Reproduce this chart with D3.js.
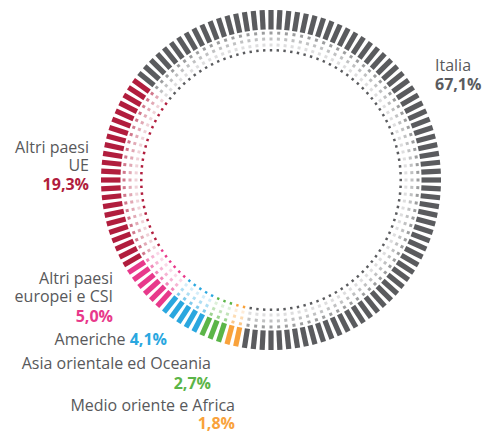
<!DOCTYPE html>
<html><head><meta charset="utf-8">
<script src="https://cdn.jsdelivr.net/npm/d3@7"></script>
<style>
html,body{margin:0;padding:0;background:#fff;}
svg{display:block;}
text{font-family:"Open Sans",sans-serif;}
</style></head>
<body><svg id="c" width="489" height="432"></svg>
<script>
// --- data ---
const categories = ["Italia","Medio oriente e Africa","Asia orientale ed Oceania","Americhe","Altri paesi europei e CSI","Altri paesi UE"];
const shares = [67.1, 1.8, 2.7, 4.1, 5.0, 19.3];
const shareLabels = ["67,1%","1,8%","2,7%","4,1%","5,0%","19,3%"];
const colors = ["#5a5b5e","#f9a23b","#5bb548","#2aa7df","#e8398b","#b11d3d"];
const tickCount = 120;

const svg = d3.select("#c");
const cx = 271, cy = 180;
const deg = Math.PI/180;
const g = svg.append("g").attr("transform",`translate(${cx},${cy})`);

const startDeg = -52;
const pie = d3.pie().sort(null).value(d=>d).startAngle(startDeg*deg).endAngle((startDeg+360)*deg);
const arcs = pie(shares);

const angle = d3.scaleLinear().domain([0,tickCount]).range([0,360]);
const ticks = d3.range(tickCount).map(i=>{
  const a = angle(i); // degrees, clockwise from top
  let ar = a*deg;
  while (ar < arcs[0].startAngle) ar += 2*Math.PI;
  while (ar >= arcs[0].startAngle + 2*Math.PI) ar -= 2*Math.PI;
  let idx = arcs.findIndex(s => ar>=s.startAngle && ar<s.endAngle);
  if (idx < 0) idx = 0;
  return {a, idx};
});

// rings: radius band [r0,r1], width, opacity
const rings = [
  {r0:150.5, r1:170, w:5.2, op:1},
  {r0:145.5, r1:148.5, w:3, op:0.6},
  {r0:139.5, r1:142.5, w:3, op:0.38},
  {r0:133.5, r1:136.5, w:3, op:0.2},
  {r0:128.5, r1:131, w:2.4, op:1}
];

rings.forEach(rg=>{
  g.append("g").selectAll("rect").data(ticks).join("rect")
    .attr("x",-rg.w/2).attr("width",rg.w)
    .attr("y",-rg.r1).attr("height",rg.r1-rg.r0)
    .attr("transform",d=>`rotate(${d.a})`)
    .attr("fill",d=>colors[d.idx])
    .attr("fill-opacity",rg.op);
});

// labels
const textGray = "#58595b";
const fs = 16;
function label(lines, x, y0, anchor){
  const t = svg.append("text").attr("text-anchor",anchor).attr("font-size",fs);
  lines.forEach((ln)=>{
    const ts = t.append("tspan").attr("x",x).attr("y",y0+(ln.dy||0));
    ln.parts.forEach(p=>{
      ts.append("tspan").text(p.t).attr("fill",p.c||textGray).attr("font-weight",p.b?700:400);
    });
  });
}
const lab = i => ({t:shareLabels[i], c:colors[i], b:true});

label([{parts:[{t:"Italia"}],dy:0},{parts:[lab(0)],dy:19}], 435, 71, "start");
label([{parts:[{t:"Altri paesi"}],dy:0},{parts:[{t:"UE"}],dy:18},{parts:[lab(5)],dy:37}], 89, 153, "end");
label([{parts:[{t:"Altri paesi"}],dy:0},{parts:[{t:"europei e CSI"}],dy:18},{parts:[lab(4)],dy:38}], 113, 284, "end");
label([{parts:[{t:"Americhe "},lab(3)],dy:0}], 167, 345, "end");
label([{parts:[{t:"Asia orientale ed Oceania"}],dy:0},{parts:[lab(2)],dy:20}], 211, 369, "end");
label([{parts:[{t:"Medio oriente e Africa"}],dy:0},{parts:[lab(1)],dy:18}], 235, 411, "end");
</script></body></html>
